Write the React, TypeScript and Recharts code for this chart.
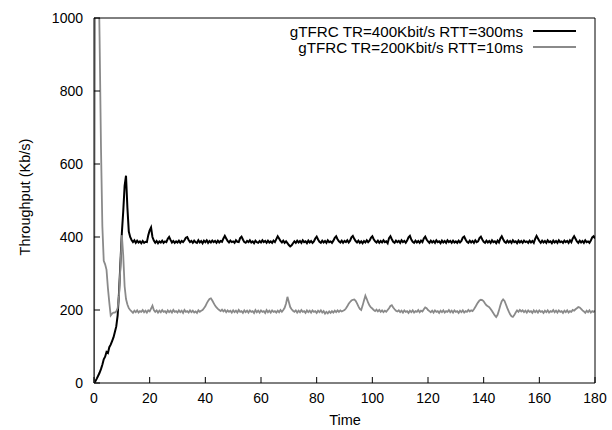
import { LineChart, Line, XAxis, YAxis } from "recharts";

// samples every 0.5 s, t = 0 .. 180
const TIME_STEP = 0.5;

const SERIES_NAMES = ["gTFRC TR=400Kbit/s RTT=300ms", "gTFRC TR=200Kbit/s RTT=10ms"];

// TR=400Kbit/s RTT=300ms (black)
const TR400_RTT300 = [
  0, 5, 12, 20, 28, 38, 50, 65, 72, 85, 82, 98, 105, 115, 125, 140, 155, 185, 250, 330,
  410, 470, 540, 568, 480, 415, 400, 392, 386, 391, 384, 390, 385, 388, 383, 389, 384, 387, 386, 405,
  418, 426, 400, 390, 384, 389, 383, 388, 385, 390, 384, 388, 386, 395, 400, 392, 385, 389, 384, 388,
  385, 390, 384, 389, 386, 391, 398, 400, 392, 386, 389, 384, 390, 386, 384, 391, 385, 389, 383, 390,
  386, 391, 384, 389, 385, 390, 386, 389, 384, 390, 385, 389, 387, 396, 403, 396, 389, 385, 390, 386,
  388, 384, 391, 387, 386, 397, 401, 393, 386, 384, 389, 386, 391, 385, 388, 383, 390, 386, 384, 389,
  385, 391, 386, 389, 384, 390, 385, 388, 384, 390, 386, 394, 402, 396, 389, 385, 390, 384, 388, 383,
  378, 374, 377, 383, 388, 384, 390, 385, 389, 384, 391, 386, 388, 383, 390, 385, 389, 384, 388, 396,
  401, 393, 387, 384, 390, 385, 389, 384, 391, 386, 388, 384, 390, 398, 402, 394, 388, 385, 390, 384,
  389, 386, 391, 385, 390, 399, 403, 395, 389, 385, 390, 384, 388, 383, 389, 385, 391, 386, 390, 398,
  402, 394, 388, 385, 390, 384, 389, 385, 391, 386, 388, 383, 397, 402, 394, 387, 384, 390, 386, 389,
  384, 391, 386, 389, 384, 390, 399, 403, 393, 387, 384, 390, 385, 389, 384, 390, 386, 396, 401, 393,
  388, 384, 390, 385, 389, 384, 391, 386, 388, 383, 390, 385, 389, 384, 391, 386, 389, 384, 390, 385,
  388, 384, 390, 385, 389, 398, 401, 393, 387, 384, 390, 385, 389, 384, 391, 386, 388, 397, 401, 393,
  387, 384, 390, 385, 389, 384, 391, 386, 388, 383, 390, 385, 396, 402, 394, 387, 384, 390, 385, 389,
  384, 391, 386, 388, 383, 390, 385, 389, 384, 390, 386, 388, 384, 390, 385, 389, 384, 395, 403, 396,
  389, 384, 390, 385, 389, 384, 391, 386, 388, 383, 390, 385, 389, 384, 391, 386, 388, 384, 390, 386,
  389, 384, 391, 386, 396, 402, 395, 388, 384, 390, 385, 389, 384, 391, 386, 388, 384, 390, 399, 402,
  396,
];

// TR=200Kbit/s RTT=10ms (grey)
const TR200_RTT10 = [
  0, 1500, 1400, 1200, 950, 650, 430, 335, 325, 310, 260, 220, 185, 190, 193, 193, 196, 205, 240, 320,
  405, 350, 265, 230, 215, 205, 200, 196, 192, 198, 194, 199, 193, 197, 195, 200, 194, 198, 193, 199,
  196, 204, 212, 200, 195, 199, 193, 198, 194, 200, 195, 197, 192, 199, 194, 198, 193, 200, 195, 197,
  193, 199, 194, 198, 192, 200, 195, 197, 193, 199, 194, 198, 193, 196, 192, 199, 195, 198, 200, 205,
  210, 218, 225, 230, 232, 226, 219, 212, 207, 203, 200, 197, 201, 196, 200, 194, 199, 195, 198, 193,
  199, 194, 198, 193, 200, 195, 197, 192, 199, 194, 198, 193, 199, 195, 197, 192, 200, 194, 198, 193,
  199, 195, 197, 192, 200, 194, 198, 193, 199, 195, 197, 193, 198, 194, 200, 195, 200, 206, 218, 236,
  222, 208, 202, 198, 195, 199, 193, 198, 194, 200, 195, 197, 192, 199, 194, 198, 193, 199, 195, 197,
  192, 198, 194, 199, 193, 197, 190, 195, 191, 196, 192, 197, 193, 198, 194, 199, 195, 199, 196, 198,
  200, 204, 210, 217, 222, 226, 228, 229, 225, 218, 210, 203, 200, 212, 226, 239, 230, 220, 212, 207,
  204, 200, 197, 201, 196, 200, 195, 199, 194, 198, 195, 200, 205, 211, 213, 207, 202, 198, 196, 199,
  194, 198, 193, 199, 195, 197, 192, 198, 194, 199, 193, 197, 195, 200, 194, 198, 196, 202, 207, 205,
  200, 197, 194, 198, 193, 199, 195, 197, 192, 198, 194, 199, 193, 197, 195, 200, 194, 198, 193, 199,
  195, 197, 192, 198, 194, 199, 193, 197, 195, 200, 196, 199, 197, 202, 208, 215, 221, 226, 228, 227,
  224, 218, 213, 210, 208, 203, 197, 191, 185, 181, 187, 199, 213, 224, 229, 225, 215, 205, 196, 188,
  183, 181, 186, 193, 199, 195, 200, 196, 199, 194, 198, 193, 199, 195, 197, 192, 199, 194, 198, 193,
  199, 195, 197, 192, 198, 194, 199, 193, 197, 195, 200, 194, 198, 193, 199, 195, 197, 192, 198, 194,
  199, 193, 197, 195, 200, 198, 202, 205, 208, 207, 203, 199, 196, 192, 198, 194, 199, 193, 197, 195,
  198,
];

const X_TICKS = [0, 20, 40, 60, 80, 100, 120, 140, 160, 180];
const Y_TICKS = [0, 200, 400, 600, 800, 1000];

const FONT = '"Liberation Sans", Arial, Helvetica, sans-serif';
const BLACK = "#000000";
const GREY = "#8a8a8a";

const data = TR400_RTT300.map((v, i) => ({
  t: i * TIME_STEP,
  tr400: v,
  tr200: TR200_RTT10[i],
}));

const tickStyle = { fontSize: 14, fill: "#000", fontFamily: FONT };
const edge = { stroke: "#000", strokeWidth: 1 };

export default function App() {
  return (
    <div style={{ position: "absolute", left: 0, top: 0, width: 612, height: 430, background: "#fff" }}>
      <LineChart
        width={612}
        height={430}
        data={data}
        margin={{ top: 17, right: 16, bottom: 46, left: 93 }}
      >
        <XAxis
          dataKey="t"
          type="number"
          domain={[0, 180]}
          ticks={X_TICKS}
          allowDataOverflow
          height={1}
          tickSize={-6}
          tickMargin={16}
          tick={tickStyle}
          axisLine={edge}
          tickLine={edge}
        />
        <XAxis
          xAxisId="top"
          orientation="top"
          type="number"
          domain={[0, 180]}
          ticks={X_TICKS}
          allowDataOverflow
          height={1}
          tickSize={-6}
          tick={false}
          axisLine={edge}
          tickLine={edge}
        />
        <YAxis
          type="number"
          domain={[0, 1000]}
          ticks={Y_TICKS}
          allowDataOverflow
          width={1}
          tickSize={-6}
          tickMargin={17}
          tick={tickStyle}
          axisLine={edge}
          tickLine={edge}
        />
        <YAxis
          yAxisId="right"
          orientation="right"
          type="number"
          domain={[0, 1000]}
          ticks={Y_TICKS}
          allowDataOverflow
          width={1}
          tickSize={-6}
          tick={false}
          axisLine={edge}
          tickLine={edge}
        />
        <Line
          type="linear"
          dataKey="tr400"
          name={SERIES_NAMES[0]}
          stroke={BLACK}
          strokeWidth={2}
          dot={false}
          isAnimationActive={false}
        />
        <Line
          type="linear"
          dataKey="tr200"
          name={SERIES_NAMES[1]}
          stroke={GREY}
          strokeWidth={1.8}
          dot={false}
          isAnimationActive={false}
        />
      </LineChart>

      {/* axis titles and key, laid over the plot */}
      <svg
        width={612}
        height={430}
        style={{ position: "absolute", left: 0, top: 0, pointerEvents: "none" }}
        fontFamily={FONT}
        fill="#000"
      >
        <text x={25} y={197} fontSize={14.5} fill="#000" textAnchor="middle" dominantBaseline="central" transform="rotate(-90 25 197)">
          Throughput (Kb/s)
        </text>
        <text x={345} y={420} fontSize={14.5} fill="#000" textAnchor="middle" dominantBaseline="central">
          Time
        </text>
        <text x={523} y={31} fontSize={15.2} fill="#000" textAnchor="end" dominantBaseline="central">
          {SERIES_NAMES[0]}
        </text>
        <line x1={533} x2={576} y1={31} y2={31} stroke={BLACK} strokeWidth={1.8} />
        <text x={523} y={47} fontSize={15.2} fill="#000" textAnchor="end" dominantBaseline="central">
          {SERIES_NAMES[1]}
        </text>
        <line x1={533} x2={576} y1={47} y2={47} stroke={GREY} strokeWidth={1.8} />
      </svg>
    </div>
  );
}
